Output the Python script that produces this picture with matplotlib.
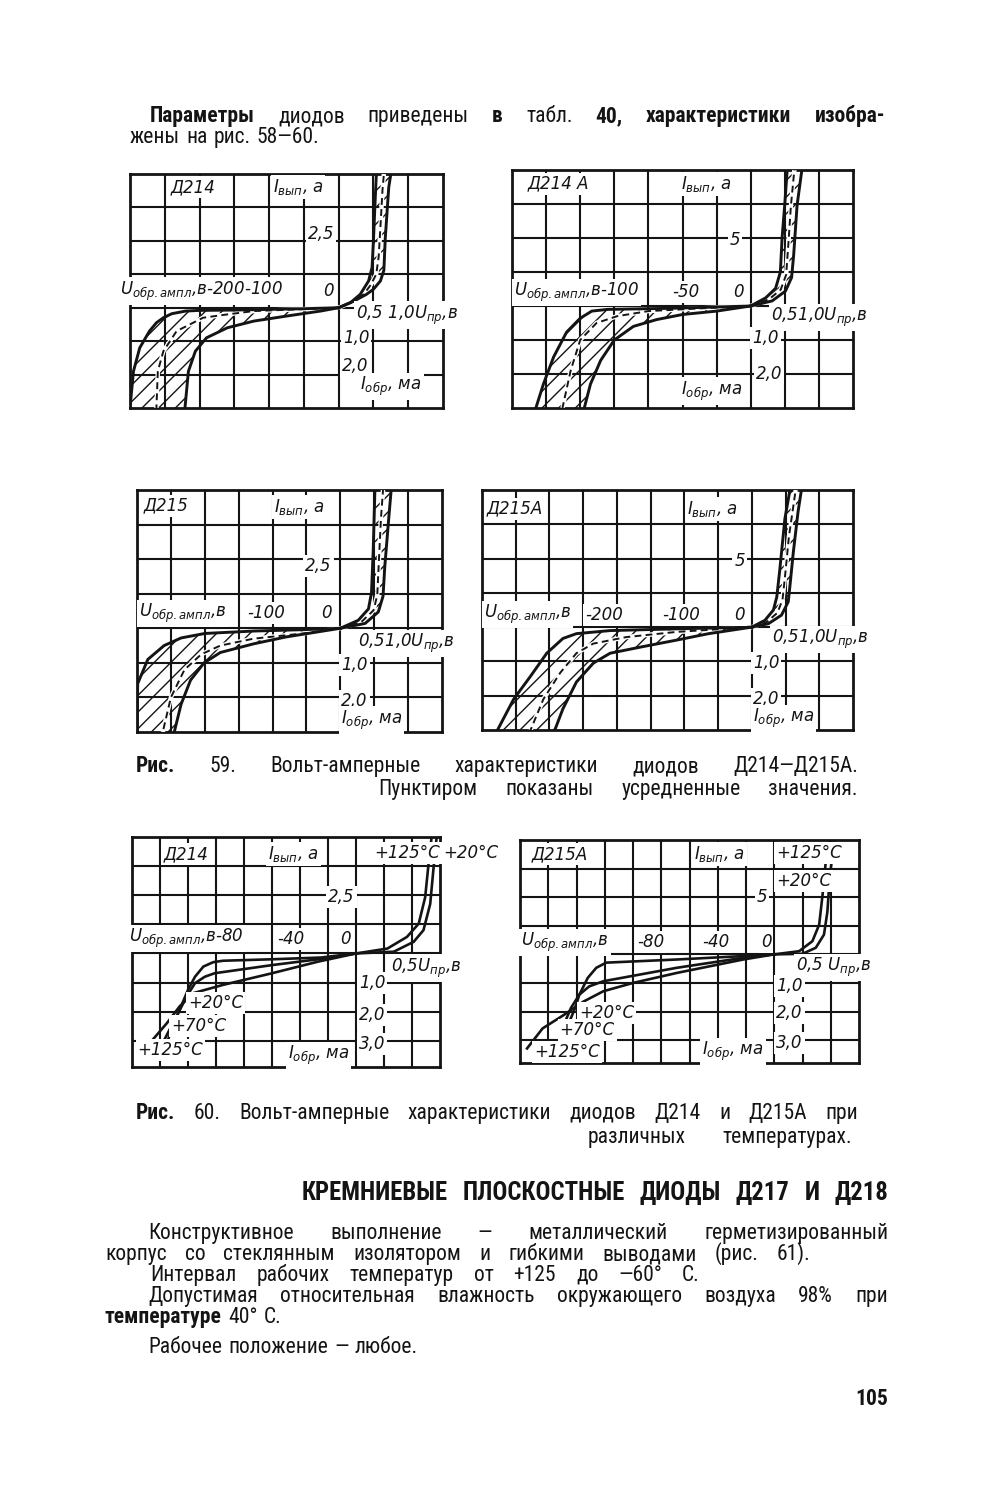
import numpy as np
import matplotlib
matplotlib.use("Agg")
import matplotlib.pyplot as plt
from matplotlib import font_manager

# ============================ DATA ============================
# Fig. 59 -- reverse branches: U_обр (V, magnitude), I_обр (mA, magnitude)
#            forward branches: U_пр (V), I_вып (A)
# "a" / "b" = limits of the scatter band, "m" = averaged (dashed) curve

# Д214
d214_rev_a_v = [0, 50, 100, 150, 200, 220, 240, 252, 262, 272, 286, 295, 300]
d214_rev_a_i = [0, 0.03, 0.05, 0.07, 0.08, 0.1, 0.18, 0.3, 0.45, 0.7, 1.2, 1.9, 3.0]
d214_rev_b_v = [0, 26, 75, 122, 160, 190, 206, 216, 221]
d214_rev_b_i = [0, 0.1, 0.25, 0.4, 0.6, 0.9, 1.3, 1.9, 3.0]
d214_rev_m_v = [0, 60, 122, 160, 195, 233, 252, 260, 262]
d214_rev_m_i = [0, 0.05, 0.1, 0.2, 0.3, 0.7, 1.3, 1.9, 3.0]
d214_fwd_a_v = [0, 0.17, 0.31, 0.43, 0.48, 0.5, 0.52, 0.54, 0.55]
d214_fwd_a_i = [0, 0.19, 0.5, 1.0, 1.5, 2.5, 3.75, 4.9, 5.0]
d214_fwd_b_v = [0, 0.22, 0.4, 0.5, 0.6, 0.65, 0.67, 0.72, 0.75]
d214_fwd_b_i = [0, 0.25, 0.5, 0.69, 1.0, 1.4, 2.6, 4.5, 5.0]
d214_fwd_m_v = [0, 0.2, 0.36, 0.46, 0.54, 0.575, 0.6, 0.63, 0.65]
d214_fwd_m_i = [0, 0.22, 0.5, 0.85, 1.25, 1.9, 3.0, 4.4, 5.0]

# Д214А
d214a_rev_a_v = [0, 25, 62, 105, 116.5, 125, 135, 144.5, 152, 157.5]
d214a_rev_a_i = [0, 0.03, 0.07, 0.1, 0.15, 0.36, 0.77, 1.5, 2.3, 3.0]
d214a_rev_b_v = [0, 25, 50, 69, 86, 100, 110, 117.5, 122]
d214a_rev_b_i = [0, 0.15, 0.25, 0.4, 0.6, 1.0, 1.6, 2.3, 3.0]
d214a_rev_m_v = [0, 37, 75, 98, 113, 125, 132, 138]
d214a_rev_m_i = [0, 0.07, 0.15, 0.3, 0.5, 1.0, 1.9, 3.0]
d214a_fwd_a_v = [0, 0.22, 0.365, 0.435, 0.46, 0.5, 0.535]
d214a_fwd_a_i = [0, 0.6, 1.3, 2.5, 5.0, 7.5, 10.0]
d214a_fwd_b_v = [0, 0.315, 0.51, 0.6, 0.63, 0.68, 0.75]
d214a_fwd_b_i = [0, 0.375, 1.1, 2.1, 3.75, 7.4, 10.0]
d214a_fwd_m_v = [0, 0.27, 0.44, 0.52, 0.55, 0.59, 0.64]
d214a_fwd_m_i = [0, 0.5, 1.2, 2.3, 4.4, 7.4, 10.0]

# Д215
d215_rev_a_v = [0, 55, 128, 200, 235, 260, 284, 299, 300]
d215_rev_a_i = [0, 0.04, 0.08, 0.15, 0.28, 0.5, 0.9, 1.6, 3.2]
d215_rev_b_v = [0, 32, 80, 128, 177, 201, 221, 235, 245]
d215_rev_b_i = [0, 0.1, 0.25, 0.45, 0.7, 1.0, 1.5, 2.2, 3.0]
d215_rev_m_v = [0, 55, 128, 177, 205, 230, 250, 262]
d215_rev_m_i = [0, 0.15, 0.3, 0.5, 0.75, 1.2, 2.0, 3.0]
d215_fwd_a_v = [0, 0.265, 0.415, 0.46, 0.485, 0.51]
d215_fwd_a_i = [0, 0.29, 0.7, 1.29, 2.8, 5.0]
d215_fwd_b_v = [0, 0.365, 0.56, 0.63, 0.655, 0.715, 0.75]
d215_fwd_b_i = [0, 0.175, 0.59, 1.16, 2.2, 4.0, 5.0]
d215_fwd_m_v = [0, 0.31, 0.49, 0.545, 0.57, 0.6, 0.63]
d215_fwd_m_i = [0, 0.23, 0.65, 1.2, 2.5, 4.0, 5.0]

# Д215А
d215a_rev_a_v = [0, 112, 210, 260, 280, 304, 328, 353, 377]
d215a_rev_a_i = [0, 0.05, 0.1, 0.19, 0.33, 0.76, 1.43, 2.1, 3.0]
d215a_rev_b_v = [0, 64, 112, 162, 210, 235, 260, 280, 292]
d215a_rev_b_i = [0, 0.19, 0.38, 0.57, 0.76, 1.05, 1.6, 2.38, 3.0]
d215a_rev_m_v = [0, 112, 186, 235, 260, 284, 309, 328]
d215a_rev_m_i = [0, 0.14, 0.29, 0.48, 0.76, 1.33, 2.1, 3.0]
d215a_fwd_a_v = [0, 0.195, 0.32, 0.37, 0.415, 0.49, 0.565]
d215a_fwd_a_i = [0, 0.5, 1.25, 2.2, 4.2, 7.9, 10.0]
d215a_fwd_b_v = [0, 0.245, 0.44, 0.54, 0.565, 0.615, 0.685, 0.735]
d215a_fwd_b_i = [0, 0.25, 0.875, 1.85, 3.0, 5.45, 8.4, 10.0]
d215a_fwd_m_v = [0, 0.22, 0.38, 0.455, 0.49, 0.55, 0.65]
d215a_fwd_m_i = [0, 0.37, 1.05, 2.0, 3.6, 6.6, 10.0]

# Fig. 60 -- temperature dependence
# Д214
t214_fwd_125_v = [0, 0.56, 0.91, 1.12, 1.235, 1.295, 1.35]
t214_fwd_125_i = [0, 0.21, 0.71, 1.28, 2.41, 3.84, 5.0]
t214_fwd_20_v = [0, 0.675, 1.03, 1.205, 1.325, 1.38, 1.44]
t214_fwd_20_i = [0, 0.075, 0.5, 1.0, 2.125, 3.55, 5.0]
t214_rev_20_v = [0, 25, 60, 95, 102, 109, 115, 120, 125, 131, 135]
t214_rev_20_i = [0, 0.14, 0.2, 0.25, 0.3, 0.45, 0.8, 1.25, 1.82, 2.5, 3.07]
t214_rev_70_v = [0, 27, 60, 101, 108, 115, 121, 127, 133, 138]
t214_rev_70_i = [0, 0.2, 0.4, 0.68, 0.8, 1.02, 1.48, 2.05, 2.6, 3.07]
t214_rev_125_v = [0, 27, 60, 95, 116, 126, 135, 145, 153]
t214_rev_125_i = [0, 0.28, 0.68, 1.08, 1.36, 1.82, 2.39, 2.95, 3.35]
# Д215А
t215a_fwd_125_v = [0, 0.44, 0.675, 0.795, 0.855, 0.91, 0.97]
t215a_fwd_125_i = [0, 0.275, 1.15, 2.6, 5.2, 8.0, 10.0]
t215a_fwd_20_v = [0, 0.5, 0.735, 0.88, 0.94, 0.98, 1.06]
t215a_fwd_20_i = [0, 0.05, 0.575, 1.725, 3.7, 6.6, 10.0]
t215a_rev_20_v = [0, 22, 69, 119, 126, 132, 138, 141, 145, 149]
t215a_rev_20_i = [0, 0.06, 0.18, 0.29, 0.47, 0.82, 1.41, 1.88, 2.35, 2.94]
t215a_rev_70_v = [0, 22, 69, 121, 131, 138, 144, 149, 152]
t215a_rev_70_i = [0, 0.12, 0.47, 0.94, 1.12, 1.41, 1.88, 2.47, 2.82]
t215a_rev_125_v = [0, 22, 69, 100, 121, 135, 149, 164, 175]
t215a_rev_125_i = [0, 0.18, 0.65, 1.0, 1.29, 1.65, 2.12, 2.59, 3.29]

# Axis texts and tick labels
I_LBL = r'$I_{вып}$, а'
U_LBL = r'$U_{обр.ампл}$,в'
UPR_LBL = r'$U_{пр}$,в'
IOBR_LBL = r'$I_{обр}$, ма'
P1_LABELS = ['Д214', I_LBL, '2,5', U_LBL + '-200-100', '0', '0,5 1,0' + UPR_LBL, '1,0', '2,0', IOBR_LBL]
P2_LABELS = ['Д214 А', I_LBL, '5', U_LBL + '-100', '-50', '0', '0,51,0' + UPR_LBL, '1,0', '2,0', IOBR_LBL]
P3_LABELS = ['Д215', I_LBL, '2,5', U_LBL, '-100', '0', '0,51,0' + UPR_LBL, '1,0', '2,0', IOBR_LBL]
P4_LABELS = ['Д215А', I_LBL, '5', U_LBL, '-200', '-100', '0', '0,51,0' + UPR_LBL, '1,0', '2,0', IOBR_LBL]
P5_LABELS = ['Д214', I_LBL, '+125°C', '+20°C', '2,5', U_LBL + '-80', '-40', '0', '0,5' + UPR_LBL,
             '1,0', '2,0', '3,0', IOBR_LBL, '+20°C', '+70°C', '+125°C']
P6_LABELS = ['Д215А', I_LBL, '+125°C', '+20°C', '5', U_LBL, '-80', '-40', '0', '0,5 ' + UPR_LBL,
             '1,0', '2,0', '3,0', IOBR_LBL, '+20°C', '+70°C', '+125°C']

# ============================ LAYOUT ============================
W, H = 995, 1500
fig = plt.figure(figsize=(W / 100, H / 100), dpi=100)
fig.patch.set_facecolor('white')

_fl = font_manager.fontManager.ttflist
_names = {f.name for f in _fl}
BODY_STRETCH = 'normal'
BODY_FONT = None
for _c in ['Liberation Sans Narrow', 'Roboto Condensed', 'Noto Sans Condensed',
           'Open Sans Condensed', 'DejaVu Sans Condensed']:
    if _c in _names:
        BODY_FONT = _c
        break
if BODY_FONT is None:
    if any(f.name == 'DejaVu Sans' and str(f.stretch) in ('condensed', 'semi-condensed') for f in _fl):
        BODY_FONT, BODY_STRETCH = 'DejaVu Sans', 'condensed'
    else:
        for _c in ['Roboto', 'Liberation Sans', 'Lato', 'DejaVu Sans']:
            if _c in _names:
                BODY_FONT = _c
                break

plt.rcParams.update({
    'font.family': ['DejaVu Sans'],
    'mathtext.fontset': 'dejavusans',
    'hatch.linewidth': 1.0,
})
INK = '#141414'


def piecewise(neg, pos):
    def f(x):
        x = np.asarray(x, dtype=float)
        return np.where(x < 0, x / neg, x / pos)

    def g(u):
        u = np.asarray(u, dtype=float)
        return np.where(u < 0, u * neg, u * pos)
    return f, g


def make_panel(box, vr, vf, af, ir, nl, nr, na, nb):
    x0, y0, x1, y1 = box
    ax = fig.add_axes([x0 / W, 1 - y1 / H, (x1 - x0) / W, (y1 - y0) / H])
    ax.set_xscale('function', functions=piecewise(vr, vf))
    ax.set_yscale('function', functions=piecewise(ir, af))
    ax.set_xlim(-nl * vr, nr * vf)
    ax.set_ylim(-nb * ir, na * af)
    ax.set_xticks([])
    ax.set_yticks([])
    ax.minorticks_off()
    for s in ax.spines.values():
        s.set_linewidth(2.0)
        s.set_color(INK)
    gl = dict(color=INK, lw=1.5, zorder=1)
    for k in range(0, nl):
        ax.axvline(-k * vr, **gl)
    for k in range(1, nr):
        ax.axvline(k * vf, **gl)
    for k in range(0, na):
        ax.axhline(k * af, **gl)
    for k in range(1, int(np.ceil(nb))):
        ax.axhline(-k * ir, **gl)
    ax.grid_n = (nl, nr, na, nb)
    return ax


def band(ax, av, ai, bv, bi, mv, mi, reverse):
    s = -1 if reverse else 1
    av, ai, bv, bi, mv, mi = [np.asarray(a, float) for a in (av, ai, bv, bi, mv, mi)]
    ax.fill(np.r_[s * av, s * bv[::-1]], np.r_[s * ai, s * bi[::-1]], facecolor='none',
            edgecolor=INK, hatch='//', linewidth=0, zorder=2)
    ax.plot(s * mv, s * mi, color='white', lw=3.2, zorder=3, solid_capstyle='butt')
    ax.plot(s * mv, s * mi, color=INK, lw=1.4, dashes=(3.5, 2.2), zorder=4)
    ax.plot(s * av, s * ai, color=INK, lw=2.1, zorder=4)
    ax.plot(s * bv, s * bi, color=INK, lw=2.1, zorder=4)


def curve(ax, v, i, reverse):
    s = -1 if reverse else 1
    ax.plot(s * np.asarray(v, float), s * np.asarray(i, float), color=INK, lw=1.9, zorder=4)


def labels(ax, texts, pos, size=12):
    nl, nr, na, nb = ax.grid_n
    for t, (gx, gy, ha) in zip(texts, pos):
        ax.text((gx + nl) / (nl + nr), (gy + nb) / (na + nb), t, transform=ax.transAxes,
                ha=ha, va='center', fontsize=size, style='italic', color=INK, zorder=6,
                clip_on=False,
                bbox=dict(boxstyle='square,pad=0.12', facecolor='white', edgecolor='none'))


# ---- Fig. 59 ----
ax1 = make_panel((130, 174, 443, 408), 50, 0.5, 1.25, 1.0, 6, 3, 4, 3)
band(ax1, d214_rev_a_v, d214_rev_a_i, d214_rev_b_v, d214_rev_b_i, d214_rev_m_v, d214_rev_m_i, True)
band(ax1, d214_fwd_a_v, d214_fwd_a_i, d214_fwd_b_v, d214_fwd_b_i, d214_fwd_m_v, d214_fwd_m_i, False)
labels(ax1, P1_LABELS, [(-4.83, 3.6, 'left'), (-1.9, 3.6, 'left'), (-0.12, 2.2, 'right'),
                        (-6.3, 0.5, 'left'), (-0.15, 0.5, 'right'), (0.5, -0.22, 'left'),
                        (0.12, -0.9, 'left'), (0.1, -1.75, 'left'), (0.62, -2.35, 'left')])

ax2 = make_panel((512, 170, 853, 408), 25, 0.5, 2.5, 1.0, 7, 3, 4, 3)
band(ax2, d214a_rev_a_v, d214a_rev_a_i, d214a_rev_b_v, d214a_rev_b_i, d214a_rev_m_v, d214a_rev_m_i, True)
band(ax2, d214a_fwd_a_v, d214a_fwd_a_i, d214a_fwd_b_v, d214a_fwd_b_i, d214a_fwd_m_v, d214a_fwd_m_i, False)
labels(ax2, P2_LABELS, [(-6.55, 3.6, 'left'), (-2.05, 3.6, 'left'), (-0.3, 1.95, 'right'),
                        (-6.95, 0.4, 'left'), (-2.3, 0.4, 'left'), (-0.2, 0.4, 'right'),
                        (0.6, -0.33, 'left'), (0.05, -0.95, 'left'), (0.15, -2.0, 'left'),
                        (-2.05, -2.5, 'left')])

ax3 = make_panel((137, 490, 442, 732), 50, 0.5, 1.25, 1.0, 6, 3, 4, 3)
band(ax3, d215_rev_a_v, d215_rev_a_i, d215_rev_b_v, d215_rev_b_i, d215_rev_m_v, d215_rev_m_i, True)
band(ax3, d215_fwd_a_v, d215_fwd_a_i, d215_fwd_b_v, d215_fwd_b_i, d215_fwd_m_v, d215_fwd_m_i, False)
labels(ax3, P3_LABELS, [(-5.8, 3.55, 'left'), (-1.96, 3.5, 'left'), (-0.26, 1.8, 'right'),
                        (-5.95, 0.43, 'left'), (-2.75, 0.43, 'left'), (-0.25, 0.43, 'right'),
                        (0.53, -0.45, 'left'), (0.02, -1.05, 'left'), (0.02, -2.1, 'left'),
                        (0.02, -2.65, 'left')])

ax4 = make_panel((482, 490, 853, 730), 50, 0.5, 2.5, 1.0, 8, 3, 4, 3)
band(ax4, d215a_rev_a_v, d215a_rev_a_i, d215a_rev_b_v, d215a_rev_b_i, d215a_rev_m_v, d215a_rev_m_i, True)
band(ax4, d215a_fwd_a_v, d215a_fwd_a_i, d215a_fwd_b_v, d215a_fwd_b_i, d215a_fwd_m_v, d215a_fwd_m_i, False)
labels(ax4, P4_LABELS, [(-7.85, 3.45, 'left'), (-1.93, 3.45, 'left'), (-0.2, 1.93, 'right'),
                        (-7.95, 0.36, 'left'), (-4.95, 0.36, 'left'), (-2.67, 0.36, 'left'),
                        (-0.2, 0.36, 'right'), (0.6, -0.37, 'left'), (0.03, -1.06, 'left'),
                        (0.03, -2.1, 'left'), (0.03, -2.66, 'left')])

# ---- Fig. 60 ----
ax5 = make_panel((132, 837, 440, 1067), 20, 0.5, 1.25, 1.0, 8, 3, 4, 3.9)
for v, i in [(t214_fwd_125_v, t214_fwd_125_i), (t214_fwd_20_v, t214_fwd_20_i)]:
    curve(ax5, v, i, False)
for v, i in [(t214_rev_20_v, t214_rev_20_i), (t214_rev_70_v, t214_rev_70_i),
             (t214_rev_125_v, t214_rev_125_i)]:
    curve(ax5, v, i, True)
labels(ax5, P5_LABELS, [(-6.88, 3.4, 'left'), (-3.15, 3.4, 'left'), (0.65, 3.45, 'left'),
                        (3.1, 3.45, 'left'), (-0.05, 1.95, 'right'), (-8.1, 0.5, 'left'),
                        (-2.8, 0.5, 'left'), (-0.2, 0.5, 'right'), (1.25, -0.5, 'left'),
                        (0.1, -1.0, 'left'), (0.1, -2.1, 'left'), (0.1, -3.1, 'left'),
                        (-2.43, -3.5, 'left'), (-6.0, -1.7, 'left'), (-6.6, -2.5, 'left'),
                        (-7.8, -3.3, 'left')])

ax6 = make_panel((520, 840, 859, 1063), 20, 0.5, 2.5, 1.0, 9, 3, 4, 3.8)
for v, i in [(t215a_fwd_125_v, t215a_fwd_125_i), (t215a_fwd_20_v, t215a_fwd_20_i)]:
    curve(ax6, v, i, False)
for v, i in [(t215a_rev_20_v, t215a_rev_20_i), (t215a_rev_70_v, t215a_rev_70_i),
             (t215a_rev_125_v, t215a_rev_125_i)]:
    curve(ax6, v, i, True)
labels(ax6, P6_LABELS, [(-8.6, 3.5, 'left'), (-2.83, 3.5, 'left'), (0.07, 3.55, 'left'),
                        (0.07, 2.55, 'left'), (-0.25, 2.0, 'right'), (-8.95, 0.42, 'left'),
                        (-4.85, 0.42, 'left'), (-2.55, 0.42, 'left'), (-0.1, 0.42, 'right'),
                        (0.78, -0.47, 'left'), (0.07, -1.1, 'left'), (0.07, -2.04, 'left'),
                        (0.07, -3.1, 'left'), (-2.55, -3.4, 'left'), (-6.9, -2.04, 'left'),
                        (-7.6, -2.65, 'left'), (-8.5, -3.4, 'left')])

# ============================ PAGE TEXT ============================
renderer = fig.canvas.get_renderer()
B, N = 'bold', 'normal'


def _mk(w, wt, size):
    return fig.text(0, 0, w, fontsize=size, fontweight=wt, family=BODY_FONT,
                    fontstretch=BODY_STRETCH, color=INK, ha='left', va='baseline')


def measure(words, size):
    tot = 0.0
    for w, wt in words:
        t = _mk(w, wt, size)
        tot += t.get_window_extent(renderer).width
        t.remove()
    return tot


BODY_SIZE = 15.0
_ref = [(w, N) for w in 'Допустимая относительная влажность окружающего воздуха 98% при'.split()]
_nat = measure(_ref, BODY_SIZE) + 7 * BODY_SIZE * 100 / 72 * 0.3
BODY_SIZE = float(np.clip(BODY_SIZE * 730 / _nat, 11.0, 15.5))


def text_line(words, x0, x1, base, size=None, justify=True):
    size = size or BODY_SIZE
    space = size * 100 / 72 * 0.28
    n = len(words)
    nat = measure(words, size)
    if nat + space * 0.8 * (n - 1) > (x1 - x0):
        size *= (x1 - x0) / (nat + space * 0.8 * (n - 1))
        space = size * 100 / 72 * 0.28
    arts = [_mk(w, wt, size) for w, wt in words]
    widths = [a.get_window_extent(renderer).width for a in arts]
    gap = (x1 - x0 - sum(widths)) / (n - 1) if (justify and n > 1) else space
    x = x0
    for a, w in zip(arts, widths):
        a.set_position((x / W, 1 - base / H))
        x += w + gap


def plain(s, wt=N):
    return [(w, wt) for w in s.split()]


text_line([('Параметры', B), ('диодов', N), ('приведены', N), ('в', B), ('табл.', N),
           ('40,', B), ('характеристики', B), ('изобра-', B)], 150, 885, 122)
text_line(plain('жены на рис. 58—60.'), 130, 328, 143, justify=False)

text_line([('Рис.', B)] + plain('59. Вольт-амперные характеристики диодов Д214—Д215А.'), 136, 858, 772)
text_line(plain('Пунктиром показаны усредненные значения.'), 378, 858, 795)

text_line([('Рис.', B)] + plain('60. Вольт-амперные характеристики диодов Д214 и Д215А при'), 136, 858, 1119)
text_line(plain('различных температурах.'), 588, 852, 1143)

text_line(plain('КРЕМНИЕВЫЕ ПЛОСКОСТНЫЕ ДИОДЫ Д217 И Д218', B), 302, 888, 1200,
          size=BODY_SIZE * 1.15)

text_line(plain('Конструктивное выполнение — металлический герметизированный'), 148, 888, 1239)
text_line(plain('корпус со стеклянным изолятором и гибкими выводами (рис. 61).'), 105, 810, 1260)
text_line(plain('Интервал рабочих температур от +125 до —60° С.'), 150, 700, 1281)
text_line(plain('Допустимая относительная влажность окружающего воздуха 98% при'), 148, 888, 1302)
text_line(plain('температуре', B) + plain('40° С.'), 105, 300, 1323, justify=False)
text_line(plain('Рабочее положение — любое.'), 148, 455, 1353, justify=False)
text_line([('105', B)], 855, 890, 1405, justify=False)

fig.savefig('out.png', dpi=100, facecolor='white')
